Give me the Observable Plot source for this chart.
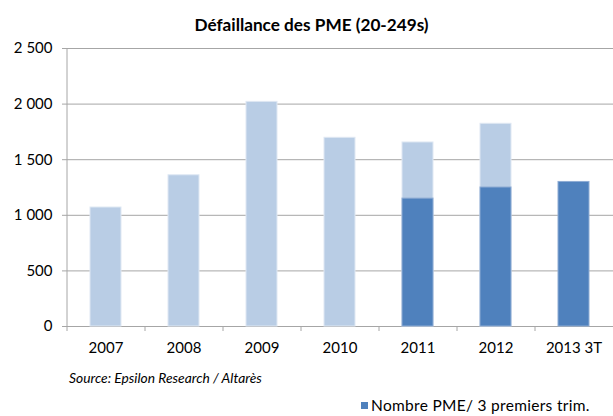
<!DOCTYPE html>
<html><head><meta charset="utf-8">
<script src="https://cdn.jsdelivr.net/npm/d3@7"></script>
<script src="https://cdn.jsdelivr.net/npm/@observablehq/plot@0.6"></script>
<style>
body{margin:0;background:#fff;font-family:Lato, "Open Sans", sans-serif;}
#wrap{position:relative;width:613px;height:416px;overflow:hidden;}
#chart{position:absolute;top:0;left:0;}
#title{position:absolute;top:14px;left:0;width:623px;text-align:center;font-weight:bold;font-size:17.2px;line-height:22px;color:#000;}
#source{position:absolute;top:369px;left:69px;font-style:italic;font-size:13.8px;line-height:18px;color:#000;}
#legend{position:absolute;top:396px;left:361px;font-size:15.5px;letter-spacing:0.3px;line-height:19px;color:#000;display:flex;align-items:center;white-space:nowrap;}
#legend .sw{display:inline-block;width:7px;height:7px;margin-right:3px;}
</style></head><body>
<div id="wrap">
<div id="chart"></div>
<div id="title"></div>
<div id="source"></div>
<div id="legend"></div>
</div>
<script>
const titleText = "Défaillance des PME (20-249s)";
const sourceText = "Source: Epsilon Research / Altarès";
const categories = ["2007","2008","2009","2010","2011","2012","2013 3T"];
const anneeComplete = [1070, 1360, 2020, 1697, 1655, 1823, null];
const troisPremiersTrim = [null, null, null, null, 1150, 1250, 1300];
const yTicks = [0, 500, 1000, 1500, 2000, 2500];
const legendLabel = "Nombre PME/ 3 premiers trim.";
const lightColor = "#b9cde5";
const darkColor = "#4f81bd";
const gridColor = "#a6a6a6";

const full = categories.map((c, i) => ({cat: c, value: anneeComplete[i]})).filter(d => d.value != null);
const q3 = categories.map((c, i) => ({cat: c, value: troisPremiersTrim[i]})).filter(d => d.value != null);

const W = 613, ML = 67, MR = 0;
const half = (W - ML - MR) / categories.length / 2;
const fmt = d => d3.format(",")(d).replace(/,/g, " ");

const plot = Plot.plot({
  width: W, height: 360,
  marginTop: 48, marginBottom: 34, marginLeft: ML, marginRight: MR,
  style: {fontFamily: "Lato, 'Open Sans', sans-serif", fontSize: "15px", color: "#000", background: "#fff"},
  x: {domain: categories, paddingInner: 0.6, paddingOuter: 0.3, label: null},
  y: {domain: [0, 2500], ticks: yTicks, label: null},
  marks: [
    Plot.gridY(yTicks, {stroke: gridColor, strokeOpacity: 1}),
    Plot.ruleX(categories.slice(0, 1), {x: d => d, dx: -half, y1: 0, y2: 2500, stroke: gridColor}),
    Plot.axisY({ticks: yTicks, tickSize: 5, tickPadding: 10, tickFormat: fmt, stroke: gridColor, fill: "#000", fontSize: 15}),
    Plot.axisX({tickSize: 5, tickFormat: () => "", dx: -half, stroke: gridColor}),
    Plot.axisX({tickSize: 0, tickPadding: 16, fill: "#000", fontSize: 15}),
    Plot.barY(full, {x: "cat", y: "value", fill: lightColor, stroke: "#dfe8f3", strokeWidth: 1}),
    Plot.barY(q3, {x: "cat", y: "value", fill: darkColor, stroke: "#8eacd4", strokeWidth: 1})
  ]
});
document.getElementById("chart").appendChild(plot);
document.getElementById("title").textContent = titleText;
document.getElementById("source").textContent = sourceText;
document.getElementById("legend").innerHTML = `<span class="sw" style="background:${darkColor}"></span><span>${legendLabel}</span>`;
</script>
</body></html>
